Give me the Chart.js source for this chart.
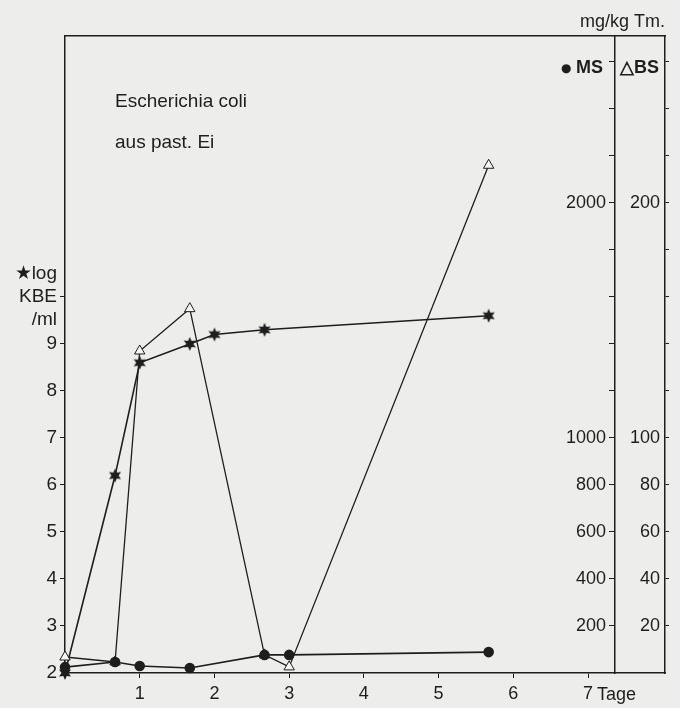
<!DOCTYPE html>
<html>
<head>
<meta charset="utf-8">
<script src="https://cdn.jsdelivr.net/npm/chart.js@4.4.0/dist/chart.umd.min.js"></script>
<style>
  html, body { margin: 0; padding: 0; background: #ededeb; }
</style>
</head>
<body>
<canvas id="chart" width="680" height="708"></canvas>
<script>
// days after start (hours / 24)
const kbeDays = [0, 0.67, 1.0, 1.67, 2.0, 2.67, 5.67];
const kbeValues = [2.0, 6.2, 8.6, 9.0, 9.2, 9.3, 9.6];   // log KBE/ml

const msDays = [0, 0.67, 1.0, 1.67, 2.67, 3.0, 5.67];
const msValues = [25, 47, 30, 21, 77, 77, 89];           // mg/kg Tm

const bsDays = [0, 0.67, 1.0, 1.67, 2.67, 3.0, 5.67];
const bsValues = [6.8, 4.7, 137, 155, 7.7, 2.6, 216];    // mg/kg Tm

const dayLabels = [1, 2, 3, 4, 5, 6, 7];
const kbeLabels = [2, 3, 4, 5, 6, 7, 8, 9];
const msLabels = [200, 400, 600, 800, 1000, 2000];
const bsLabels = [20, 40, 60, 80, 100, 200];

const ink = "#1e1e1e";
const gap = "\u2002";
Chart.defaults.font.family = "'Liberation Sans', Arial, sans-serif";
Chart.defaults.color = ink;

function starImage(r) {
  const c = document.createElement("canvas");
  const s = r * 2 + 2;
  c.width = s;
  c.height = s;
  const g = c.getContext("2d");
  g.fillStyle = ink;
  g.beginPath();
  for (let i = 0; i < 12; i++) {
    const a = (Math.PI / 6) * i - Math.PI / 2;
    const rr = i % 2 === 0 ? r : r * 0.5;
    g.lineTo(s / 2 + rr * Math.cos(a), s / 2 + rr * Math.sin(a));
  }
  g.closePath();
  g.fill();
  return c;
}

const hidden = "rgba(0,0,0,0)";

const textPlugin = {
  id: "texts",
  afterDraw(chart) {
    const ctx = chart.ctx;
    ctx.save();
    ctx.fillStyle = ink;
    ctx.textBaseline = "alphabetic";
    ctx.textAlign = "left";
    ctx.font = "19px 'Liberation Sans', Arial, sans-serif";
    ctx.fillText("Escherichia coli", 115, 107);
    ctx.fillText("aus past. Ei", 115, 148);
    ctx.font = "18px 'Liberation Sans', Arial, sans-serif";
    ctx.textAlign = "right";
    ctx.fillText("mg/kg Tm.", 665, 27);
    ctx.textAlign = "left";
    ctx.font = "12px 'DejaVu Sans', sans-serif";
    ctx.fillText("\u25CF", 561, 72);
    ctx.font = "bold 18px 'Liberation Sans', Arial, sans-serif";
    ctx.fillText("MS", 576, 73);
    ctx.fillText("\u25B3BS", 620, 73);
    ctx.font = "18px 'Liberation Sans', Arial, sans-serif";
    const x7 = chart.scales.x.getPixelForValue(7);
    ctx.fillText("Tage", x7 + 9, 700);
    ctx.restore();
  },
};

new Chart(document.getElementById("chart"), {
  type: "line",
  data: {
    datasets: [
      {
        label: "MS",
        data: msDays.map((d, i) => ({ x: d, y: msValues[i] })),
        yAxisID: "ms",
        clip: 10,
        borderColor: ink,
        borderWidth: 1.6,
        pointStyle: "circle",
        pointRadius: 4.5,
        pointBackgroundColor: ink,
        pointBorderColor: ink,
      },
      {
        label: "BS",
        data: bsDays.map((d, i) => ({ x: d, y: bsValues[i] })),
        yAxisID: "bs",
        clip: 10,
        borderColor: ink,
        borderWidth: 1.3,
        pointStyle: "triangle",
        pointRadius: 6,
        pointBackgroundColor: "#f6f6f4",
        pointBorderColor: ink,
        pointBorderWidth: 1,
      },
      {
        label: "log KBE/ml",
        data: kbeDays.map((d, i) => ({ x: d, y: kbeValues[i] })),
        yAxisID: "y",
        clip: 10,
        borderColor: ink,
        borderWidth: 1.6,
        pointStyle: starImage(7),
      },
    ],
  },
  options: {
    responsive: false,
    animation: false,
    devicePixelRatio: 1,
    layout: { padding: 0 },
    plugins: {
      legend: { display: false },
      tooltip: { enabled: false },
    },
    scales: {
      x: {
        type: "linear",
        position: "bottom",
        min: 0,
        max: 8.03,
        afterFit: (s) => { s.height = 35; },
        ticks: {
          stepSize: 1,
          includeBounds: false,
          autoSkip: false,
          maxRotation: 0,
          padding: 5,
          font: { size: 18 },
          callback: (v) => (dayLabels.includes(v) ? String(v) : ""),
        },
        grid: {
          drawOnChartArea: false,
          tickLength: 5,
          tickColor: (c) => (c.tick && dayLabels.includes(c.tick.value) ? ink : hidden),
        },
        border: { color: ink, width: 1.5 },
      },
      xTop: {
        type: "linear",
        position: "top",
        min: 0,
        max: 8.03,
        afterFit: (s) => { s.height = 36; },
        ticks: { display: false },
        grid: { display: false },
        border: { color: ink, width: 1.5 },
      },
      y: {
        type: "linear",
        position: "left",
        min: 2,
        max: 15.55,
        afterFit: (s) => { s.width = 65; },
        ticks: {
          stepSize: 1,
          includeBounds: false,
          autoSkip: false,
          padding: 3,
          font: { size: 19 },
          callback: (v) => {
            if (v === 10) return ["\u2605log", "KBE", "/ml"];
            return kbeLabels.includes(v) ? String(v) : "";
          },
        },
        grid: {
          drawOnChartArea: false,
          tickLength: 5,
          tickColor: (c) => (c.tick && c.tick.value > 2 && c.tick.value <= 10 ? ink : hidden),
        },
        border: { color: ink, width: 1.5 },
      },
      ms: {
        type: "linear",
        position: { x: 7.36 },
        min: 0,
        max: 2710,
        ticks: {
          stepSize: 200,
          includeBounds: false,
          autoSkip: false,
          font: { size: 18 },
          callback: (v) => (msLabels.includes(v) ? String(v) + gap : ""),
        },
        grid: {
          drawOnChartArea: false,
          tickLength: 5,
          tickColor: (c) => (c.tick && c.tick.value > 0 ? ink : hidden),
        },
        border: { color: ink, width: 1.5 },
      },
      bs: {
        type: "linear",
        position: "right",
        min: 0,
        max: 271,
        afterFit: (s) => { s.width = 15; },
        ticks: {
          stepSize: 20,
          includeBounds: false,
          autoSkip: false,
          mirror: true,
          padding: 4,
          font: { size: 18 },
          callback: (v) => (bsLabels.includes(v) ? String(v) + gap : ""),
        },
        grid: {
          drawOnChartArea: false,
          tickLength: 4,
          tickColor: (c) => (c.tick && c.tick.value > 0 ? ink : hidden),
        },
        border: { color: ink, width: 1.5 },
      },
    },
  },
  plugins: [textPlugin],
});
</script>
</body>
</html>
